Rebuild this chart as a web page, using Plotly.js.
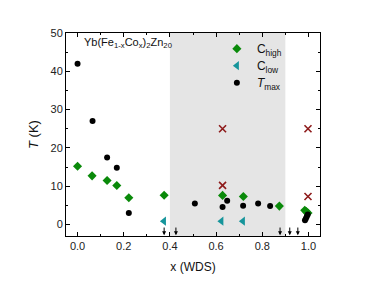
<!DOCTYPE html>
<html>
<head>
<meta charset="utf-8">
<script src="https://cdn.plot.ly/plotly-3.0.1.min.js"></script>
<style>html,body{margin:0;padding:0;background:#fff}#plot{width:372px;height:284px}</style>
</head>
<body>
<div id="plot"></div>
<script>
// Data
var tmaxX = [0.0, 0.065, 0.128, 0.170, 0.222, 0.508, 0.628, 0.648, 0.717, 0.782, 0.834, 0.985, 0.989, 0.993, 0.997];
var tmaxY = [42, 27, 17.5, 14.8, 3.0, 5.5, 4.6, 6.2, 4.9, 5.5, 4.8, 1.1, 1.6, 2.1, 2.6];
var chighX = [0.0, 0.063, 0.128, 0.170, 0.222, 0.375, 0.628, 0.718, 0.874, 0.984, 0.991, 0.998];
var chighY = [15.2, 12.7, 11.5, 10.2, 7.0, 7.65, 7.6, 7.3, 4.8, 3.7, 3.4, 3.0];
var clowX = [0.374, 0.623, 0.716];
var clowY = [0.87, 0.87, 0.87];
var crossX = [0.628, 0.628, 0.998, 0.998];
var crossY = [25, 10.2, 25, 7.3];
var arrowX = [0.375, 0.426, 0.877, 0.919, 0.954];
var shadeX = [0.4, 0.9];

var traces = [
  {x: chighX, y: chighY, mode: 'markers', type: 'scatter', name: 'C<sub>high</sub>', legend: 'legend',
   marker: {symbol: 'diamond', size: 7, color: '#0a8a0a'}},
  {x: clowX, y: clowY, mode: 'markers', type: 'scatter', name: 'C<sub>low</sub>', legend: 'legend2',
   marker: {symbol: 'triangle-left', size: 8, color: '#16959b'}},
  {x: tmaxX, y: tmaxY, mode: 'markers', type: 'scatter', name: '<i>T</i><sub>max</sub>', legend: 'legend3',
   marker: {symbol: 'circle', size: 6, color: '#000'}},
  {x: crossX, y: crossY, mode: 'markers', type: 'scatter', name: 'cross', showlegend: false,
   marker: {symbol: 'x-thin', size: 7, line: {width: 1.6, color: '#8e1b1b'}, color: '#8e1b1b'}}
];

var annotations = [{
  xref: 'x', yref: 'y', x: 0.02, y: 47.5, xanchor: 'left', yanchor: 'middle',
  text: 'Yb(Fe<sub>1-x</sub>Co<sub>x</sub>)<sub>2</sub>Zn<sub>20</sub>',
  showarrow: false, font: {family: 'Liberation Sans, Arial', size: 11, color: '#111'}
}];
arrowX.forEach(function (ax) {
  annotations.push({xref: 'x', yref: 'y', axref: 'x', ayref: 'y',
    x: ax, y: -2.8, ax: ax, ay: -0.4, text: '', showarrow: true,
    arrowhead: 2, arrowsize: 0.8, arrowwidth: 1, arrowcolor: '#000'});
});

var axisCommon = {
  showgrid: false, zeroline: false, showline: true, linecolor: '#000', linewidth: 1,
  mirror: 'ticks', ticks: 'inside', ticklen: 4, tickwidth: 1, tickcolor: '#000',
  tickfont: {family: 'Liberation Sans, Arial', size: 11, color: '#222'}
};

function leg(yc) {
  return {x: 0.594, y: yc, xanchor: 'left', yanchor: 'middle', bgcolor: 'rgba(0,0,0,0)',
    font: {family: 'Liberation Sans, Arial', size: 12, color: '#111'}, itemwidth: 30};
}

var layout = {
  width: 372, height: 284,
  margin: {l: 66, r: 52, t: 33, b: 48},
  paper_bgcolor: '#fff', plot_bgcolor: '#fff',
  showlegend: true,
  legend: leg(0.923),
  legend2: leg(0.839),
  legend3: leg(0.755),
  xaxis: Object.assign({}, axisCommon, {
    range: [-0.05, 1.05], tickvals: [0, 0.2, 0.4, 0.6, 0.8, 1.0], ticktext: ['0.0', '0.2', '0.4', '0.6', '0.8', '1.0'],
    minor: {tickvals: [0.1, 0.3, 0.5, 0.7, 0.9], ticks: 'inside', ticklen: 2, tickcolor: '#000'},
    title: {text: 'x (WDS)', font: {family: 'Liberation Sans, Arial', size: 12, color: '#111'}, standoff: 11}
  }),
  yaxis: Object.assign({}, axisCommon, {
    range: [-3, 50], tickvals: [0, 10, 20, 30, 40, 50],
    minor: {tickvals: [5, 15, 25, 35, 45], ticks: 'inside', ticklen: 2, tickcolor: '#000'},
    title: {text: '<i>T</i> (K)', font: {family: 'Liberation Sans, Arial', size: 13, color: '#111'}, standoff: 8}
  }),
  shapes: [{type: 'rect', xref: 'x', yref: 'paper', x0: shadeX[0], x1: shadeX[1], y0: 0, y1: 1,
    fillcolor: '#e5e5e5', line: {width: 0}, layer: 'below'}],
  annotations: annotations
};

Plotly.newPlot('plot', traces, layout, {displayModeBar: false, staticPlot: true});
</script>
</body>
</html>
